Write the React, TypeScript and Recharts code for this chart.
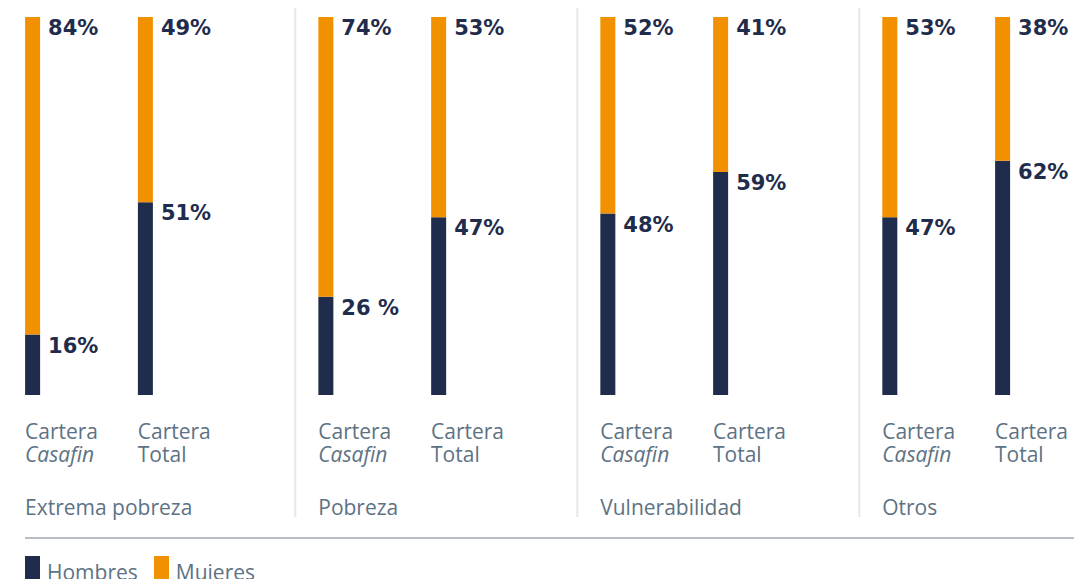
import React from 'react';
import { BarChart, Bar, XAxis, YAxis, LabelList, ReferenceLine, Legend } from 'recharts';

const NAVY = '#1f2c4c';
const ORANGE = '#f29100';
const GREY_TEXT = '#5d7283';

const groups = ['Extrema pobreza', 'Pobreza', 'Vulnerabilidad', 'Otros'];
const carteras = ['Casafin', 'Total', 'Casafin', 'Total', 'Casafin', 'Total', 'Casafin', 'Total'];
const slots = [0, 1, 2.6, 3.6, 5.1, 6.1, 7.6, 8.6];
const hombres = [16, 51, 26, 47, 48, 59, 47, 62];
const mujeres = [84, 49, 74, 53, 52, 41, 53, 38];
const hombresLabels = ['16%', '51%', '26 %', '47%', '48%', '59%', '47%', '62%'];
const mujeresLabels = ['84%', '49%', '74%', '53%', '52%', '41%', '53%', '38%'];

const data = slots.map((s, i) => ({
  slot: s,
  cartera: carteras[i],
  group: groups[Math.floor(i / 2)],
  hombres: hombres[i],
  mujeres: mujeres[i],
}));

// separators sit a little left of each group's first bar
const separators = [2, 4, 6].map(i => slots[i] - 0.27);

const makeLabel = (texts: string[]) => (props: any) => {
  const { x, y, width, index } = props;
  return (
    <text x={x + width + 8} y={y + 18} fill={NAVY} fontSize={21} fontWeight="bold"
      fontFamily="'DejaVu Sans', sans-serif">
      {texts[index]}
    </text>
  );
};

const CategoryTick = (props: any) => {
  const { x, y, payload } = props;
  const i = slots.indexOf(payload.value);
  if (i < 0) return null;
  const left = x - 7.5;
  return (
    <g fontFamily="'Open Sans', sans-serif" fontSize={21} fill={GREY_TEXT}>
      <text x={left} y={y + 44}>Cartera</text>
      <text x={left} y={y + 67} fontStyle={carteras[i] === 'Casafin' ? 'italic' : 'normal'}>{carteras[i]}</text>
      {i % 2 === 0 && <text x={left} y={y + 120}>{groups[i / 2]}</text>}
    </g>
  );
};

const LegendContent = () => (
  <div style={{ width: 1049, borderTop: '2px solid #b8bcc7', paddingTop: 17, display: 'flex', fontFamily: "'Open Sans', sans-serif", fontSize: 21, color: GREY_TEXT }}>
    {[['Hombres', NAVY], ['Mujeres', ORANGE]].map(([name, color]) => (
      <div key={name} style={{ display: 'flex', alignItems: 'flex-start', marginRight: 16 }}>
        <span style={{ display: 'inline-block', width: 15, height: 26, background: color, marginRight: 7 }} />
        <span style={{ lineHeight: '26px', marginTop: 3 }}>{name}</span>
      </div>
    ))}
  </div>
);

export default function App() {
  return (
    <div style={{ position: 'absolute', left: 0, top: 0, width: 1074, height: 579, overflow: 'hidden', background: '#fff' }}>
      <BarChart width={1074} height={579} data={data} margin={{ top: 17, right: 71.5, bottom: 34, left: 32.5 }}>
        <XAxis dataKey="slot" type="number" domain={[0, 8.6]} ticks={slots} interval={0}
          axisLine={false} tickLine={false} tickSize={0} tickMargin={0} height={90} tick={<CategoryTick />} />
        <YAxis hide domain={[0, 100]} />
        {separators.map(s => (
          <ReferenceLine key={s} ifOverflow="visible" stroke="#e4e7eb" strokeWidth={2}
            segment={[{ x: s, y: 102.4 }, { x: s, y: -32.3 }]} />
        ))}
        <Bar dataKey="hombres" name="Hombres" stackId="a" fill={NAVY} barSize={15} isAnimationActive={false}>
          <LabelList dataKey="hombres" content={makeLabel(hombresLabels)} />
        </Bar>
        <Bar dataKey="mujeres" name="Mujeres" stackId="a" fill={ORANGE} barSize={15} isAnimationActive={false}>
          <LabelList dataKey="mujeres" content={makeLabel(mujeresLabels)} />
        </Bar>
        <Legend content={<LegendContent />} wrapperStyle={{ position: 'absolute', left: 25, top: 537, width: 1049, height: 60 }} />
      </BarChart>
    </div>
  );
}
